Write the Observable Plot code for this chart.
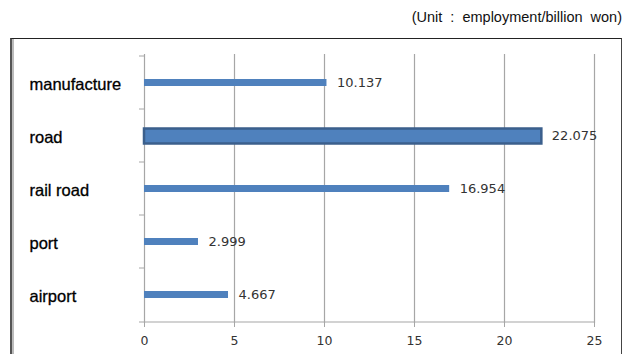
<!DOCTYPE html>
<html>
<head>
<meta charset="utf-8">
<script src="https://cdn.jsdelivr.net/npm/d3@7"></script>
<script src="https://cdn.jsdelivr.net/npm/@observablehq/plot@0.6"></script>
<style>
  html, body { margin: 0; padding: 0; background: #fff; }
  #wrap { position: relative; width: 637px; height: 354px; overflow: hidden; background: #fff; }
  #title { position: absolute; right: 15px; top: 9px; font-family: "Liberation Sans", Arial, sans-serif; font-size: 14.5px; color: #111; white-space: pre; }
  #box { position: absolute; left: 10px; top: 38px; width: 609px; height: 340px;
         border-top: 1.5px solid #222; border-right: 1.5px solid #444; border-left: 2px solid #555;
         box-shadow: inset 2px 0 0 #bbb; pointer-events: none; }
  #chart { position: absolute; left: 0; top: 0; }
</style>
</head>
<body>
<div id="wrap">
  <div id="chart"></div>
  <div id="box"></div>
  <div id="title">(Unit  :  employment/billion  won)</div>
</div>
<script>
const categories = ["manufacture", "road", "rail road", "port", "airport"];
const values = [10.137, 22.075, 16.954, 2.999, 4.667];
const highlighted = ["road"];
const xTicks = [0, 5, 10, 15, 20, 25];

const data = categories.map((c, i) => ({category: c, value: values[i]}));
const thin = data.filter(d => !highlighted.includes(d.category));
const thick = data.filter(d => highlighted.includes(d.category));

const gray = "#a6a6a6";
const blue = "#4f81bd";

const chart = Plot.plot({
  width: 637,
  height: 354,
  marginLeft: 144,
  marginRight: 43,
  marginTop: 54,
  marginBottom: 31,
  style: {background: "transparent", fontFamily: "DejaVu Sans, Verdana, sans-serif"},
  x: {domain: [0, 25], ticks: xTicks},
  y: {type: "band", domain: categories, padding: 0},
  marks: [
    Plot.gridX(xTicks.filter(t => t > 0), {stroke: gray, strokeOpacity: 1, strokeWidth: 1.2}),
    Plot.ruleX([0], {stroke: gray, strokeWidth: 1.2}),
    Plot.ruleY([categories[categories.length - 1]], {stroke: gray, strokeWidth: 1.2, dy: 27, insetLeft: -5}),
    Plot.axisY({tickSize: 5, dy: -27, stroke: gray, tickFormat: () => "", label: null}),
    Plot.barX(thin, {x: "value", y: "category", fill: blue, insetTop: 23, insetBottom: 23}),
    Plot.barX(thick, {x: "value", y: "category", fill: blue, stroke: "#3b5f8c", strokeWidth: 2.5, insetTop: 19.5, insetBottom: 18.5}),
    Plot.text(data, {x: "value", y: "category", text: d => d.value.toFixed(3), textAnchor: "start", dx: 10, fontSize: 13, fill: "#333"}),
    Plot.text(categories, {y: d => d, text: d => d, frameAnchor: "left", textAnchor: "start", dx: -115, dy: 1.5, fontSize: 16.5, fill: "#000", stroke: "#000", strokeWidth: 0.3, fontFamily: "Liberation Sans, Arial, sans-serif"}),
    Plot.axisX(xTicks, {tickSize: 4, stroke: gray, tickPadding: 9, fontSize: 12.5, fill: "#333", label: null})
  ]
});
document.getElementById("chart").appendChild(chart);
</script>
</body>
</html>
